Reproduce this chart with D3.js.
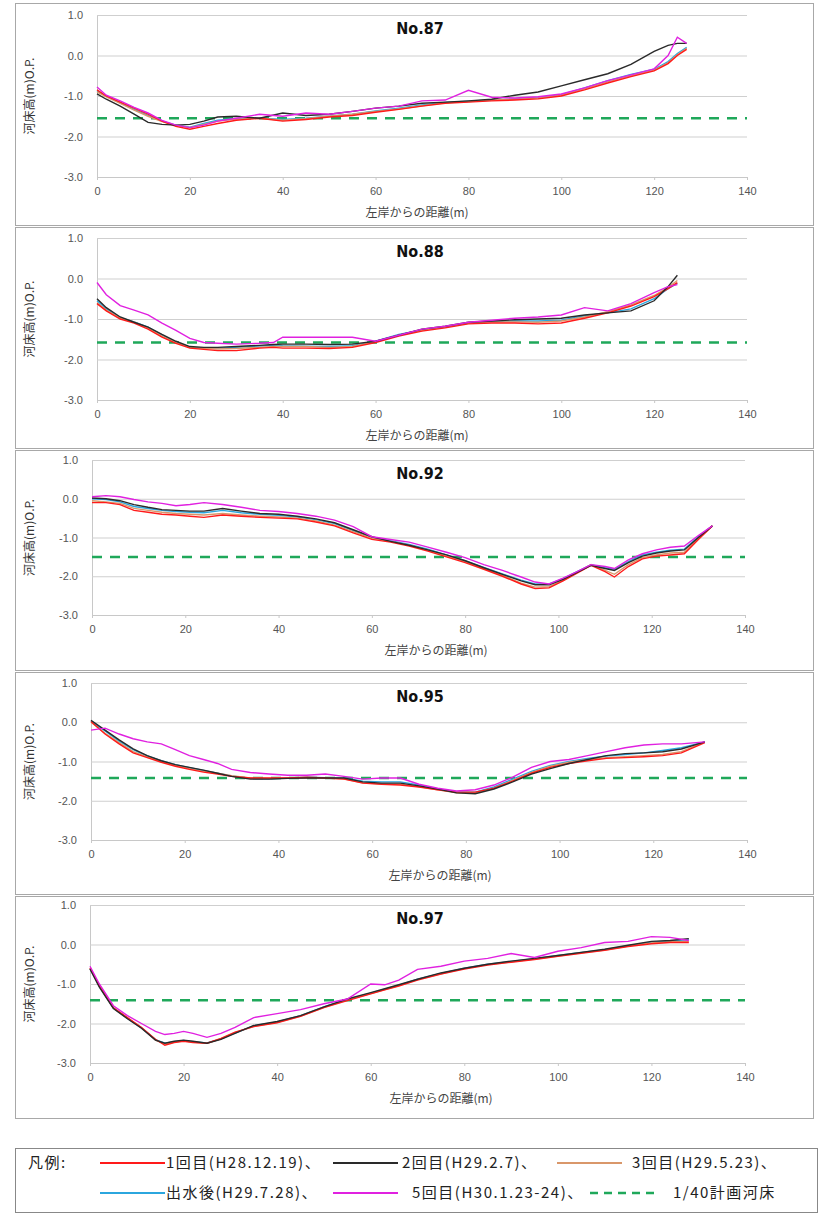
<!DOCTYPE html>
<html>
<head>
<meta charset="utf-8">
<script src="https://cdn.jsdelivr.net/npm/d3@7"></script>
<style>
  body { margin: 0; background: #fff; }
  svg { display: block; }
  .tick text { font-family: "Liberation Sans", Arial, sans-serif; font-size: 11px; fill: #555; }
  .jp { font-family: "Noto Sans CJK JP", sans-serif; }
</style>
</head>
<body>
<div id="chart"></div>
<script>
var chart_width = 823,
    chart_height = 1214;

// series names / colours (legend order)
var seriesNames = ['1回目(H28.12.19)、', '2回目(H29.2.7)、', '3回目(H29.5.23)、',
                   '出水後(H29.7.28)、', '5回目(H30.1.23-24)、'];
var seriesColors = ['#ff1a1a', '#2a2a2a', '#d9976a', '#2ba6de', '#e021e0'];
var planName = '1/40計画河床';
var planColor = '#1fa85a';

var xTicks = [0, 20, 40, 60, 80, 100, 120, 140];
var yTicks = [1, 0, -1, -2, -3];
var titles = ['No.87', 'No.88', 'No.92', 'No.95', 'No.97'];
var planLevels = [-1.55, -1.58, -1.5, -1.42, -1.41];

// No.87
var x87 = [0, 2, 5, 8, 11, 14, 17, 20, 23, 26, 30, 35, 40, 45, 50, 55, 60, 65, 70, 75, 80, 85, 90, 95, 100, 105, 110, 115, 120, 123, 125, 127];
var red87 = [-0.85, -1.0, -1.15, -1.3, -1.45, -1.62, -1.75, -1.82, -1.75, -1.68, -1.6, -1.55, -1.62, -1.58, -1.52, -1.48, -1.4, -1.33, -1.25, -1.18, -1.15, -1.12, -1.1, -1.07, -1.0, -0.85, -0.68, -0.52, -0.38, -0.2, 0.0, 0.15];
var black87 = [-0.95, -1.08, -1.25, -1.45, -1.65, -1.7, -1.72, -1.7, -1.62, -1.52, -1.5, -1.55, -1.42, -1.48, -1.45, -1.38, -1.3, -1.25, -1.18, -1.15, -1.12, -1.08, -0.98, -0.9, -0.75, -0.6, -0.45, -0.22, 0.1, 0.25, 0.3, 0.3];
var brown87 = [-0.9, -1.02, -1.18, -1.35, -1.5, -1.63, -1.73, -1.78, -1.7, -1.62, -1.57, -1.55, -1.6, -1.56, -1.5, -1.45, -1.38, -1.32, -1.24, -1.17, -1.14, -1.1, -1.08, -1.05, -0.98, -0.82, -0.65, -0.5, -0.36, -0.18, 0.02, 0.18];
var blue87 = [-0.88, -1.0, -1.17, -1.33, -1.48, -1.62, -1.72, -1.77, -1.68, -1.6, -1.56, -1.54, -1.58, -1.55, -1.5, -1.45, -1.37, -1.3, -1.22, -1.16, -1.13, -1.1, -1.07, -1.04, -0.97, -0.8, -0.62, -0.47, -0.34, -0.15, 0.05, 0.2];
var pink87 = [-0.78, -0.98, -1.12, -1.28, -1.42, -1.6, -1.72, -1.78, -1.72, -1.62, -1.55, -1.45, -1.5, -1.42, -1.45, -1.38, -1.3, -1.25, -1.12, -1.1, -0.86, -1.03, -1.05, -1.02, -0.95, -0.8, -0.62, -0.48, -0.33, 0.0, 0.45, 0.3];

// No.88
var x88 = [0, 2, 5, 8, 11, 14, 17, 20, 23, 26, 30, 35, 38, 40, 45, 50, 55, 60, 65, 70, 75, 80, 85, 90, 95, 100, 105, 110, 115, 120, 123, 125];
var red88 = [-0.62, -0.8, -1.0, -1.1, -1.25, -1.45, -1.6, -1.72, -1.75, -1.78, -1.78, -1.72, -1.7, -1.72, -1.72, -1.73, -1.7, -1.58, -1.42, -1.3, -1.22, -1.12, -1.1, -1.1, -1.12, -1.1, -0.98, -0.85, -0.68, -0.45, -0.25, -0.1];
var black88 = [-0.5, -0.72, -0.95, -1.08, -1.2, -1.38, -1.55, -1.68, -1.7, -1.7, -1.68, -1.65, -1.63, -1.62, -1.62, -1.63, -1.62, -1.55, -1.4, -1.25, -1.18, -1.08, -1.05, -1.02, -1.0, -0.98, -0.9, -0.85, -0.8, -0.55, -0.2, 0.08];
var brown88 = [-0.6, -0.78, -0.98, -1.08, -1.22, -1.42, -1.58, -1.7, -1.73, -1.74, -1.73, -1.7, -1.68, -1.68, -1.68, -1.7, -1.68, -1.56, -1.4, -1.28, -1.2, -1.1, -1.07, -1.07, -1.08, -1.05, -0.95, -0.82, -0.65, -0.42, -0.22, -0.05];
var blue88 = [-0.55, -0.75, -0.97, -1.07, -1.2, -1.4, -1.57, -1.7, -1.72, -1.72, -1.7, -1.67, -1.65, -1.66, -1.67, -1.68, -1.66, -1.55, -1.38, -1.27, -1.2, -1.1, -1.06, -1.05, -1.05, -1.03, -0.92, -0.85, -0.75, -0.5, -0.25, -0.12];
var pink88 = [-0.1, -0.4, -0.67, -0.78, -0.9, -1.1, -1.28, -1.48, -1.58, -1.6, -1.62, -1.6, -1.58, -1.45, -1.45, -1.45, -1.45, -1.55, -1.4, -1.25, -1.18, -1.08, -1.03, -0.98, -0.95, -0.9, -0.72, -0.8, -0.62, -0.35, -0.2, -0.15];

// No.92
var x92 = [0, 3, 6, 9, 12, 15, 18, 21, 24, 28, 32, 36, 40, 44, 48, 52, 56, 60, 64, 68, 72, 76, 80, 84, 88, 92, 95, 98, 101, 104, 107, 110, 112, 115, 118, 121, 124, 127, 130, 133];
var red92 = [-0.1, -0.1, -0.15, -0.3, -0.35, -0.4, -0.42, -0.45, -0.48, -0.42, -0.45, -0.48, -0.5, -0.52, -0.6, -0.7, -0.88, -1.05, -1.12, -1.22, -1.35, -1.5, -1.65, -1.82, -2.0, -2.2, -2.32, -2.3, -2.12, -1.92, -1.72, -1.88, -2.02, -1.75, -1.55, -1.48, -1.45, -1.42, -1.05, -0.7];
var black92 = [0.02, 0.0, -0.05, -0.15, -0.22, -0.28, -0.3, -0.32, -0.32, -0.25, -0.32, -0.38, -0.4, -0.45, -0.52, -0.62, -0.8, -0.98, -1.1, -1.2, -1.32, -1.45, -1.6, -1.78, -1.95, -2.12, -2.22, -2.22, -2.08, -1.9, -1.72, -1.8, -1.85, -1.65, -1.48, -1.4, -1.35, -1.32, -1.0, -0.7];
var brown92 = [-0.05, -0.08, -0.12, -0.25, -0.3, -0.35, -0.38, -0.4, -0.42, -0.38, -0.42, -0.45, -0.47, -0.5, -0.57, -0.68, -0.85, -1.02, -1.1, -1.2, -1.33, -1.48, -1.62, -1.8, -1.98, -2.18, -2.28, -2.27, -2.1, -1.9, -1.7, -1.85, -1.95, -1.7, -1.52, -1.45, -1.4, -1.38, -1.02, -0.7];
var blue92 = [0.0, -0.02, -0.08, -0.2, -0.25, -0.3, -0.33, -0.35, -0.36, -0.3, -0.36, -0.4, -0.43, -0.47, -0.54, -0.64, -0.82, -1.0, -1.08, -1.18, -1.3, -1.45, -1.6, -1.77, -1.94, -2.1, -2.2, -2.2, -2.06, -1.88, -1.7, -1.78, -1.82, -1.62, -1.45, -1.38, -1.33, -1.3, -0.98, -0.7];
var pink92 = [0.05, 0.08, 0.05, -0.02, -0.08, -0.12, -0.18, -0.15, -0.1, -0.15, -0.22, -0.3, -0.33, -0.38, -0.45, -0.55, -0.72, -0.98, -1.05, -1.12, -1.25, -1.38, -1.52, -1.7, -1.85, -2.02, -2.15, -2.2, -2.05, -1.88, -1.7, -1.75, -1.8, -1.58, -1.42, -1.32, -1.25, -1.22, -0.95, -0.7];

// No.95
var x95 = [0, 3, 6, 9, 12, 15, 18, 21, 24, 27, 30, 34, 38, 42, 46, 50, 54, 58, 62, 66, 70, 74, 78, 82, 86, 90, 94, 98, 102, 106, 110, 114, 118, 122, 126, 131];
var red95 = [0.02, -0.3, -0.55, -0.78, -0.9, -1.02, -1.12, -1.2, -1.27, -1.32, -1.38, -1.42, -1.42, -1.42, -1.4, -1.42, -1.45, -1.55, -1.58, -1.6, -1.65, -1.72, -1.78, -1.78, -1.68, -1.5, -1.3, -1.15, -1.05, -0.98, -0.92, -0.9, -0.88, -0.85, -0.78, -0.52];
var black95 = [0.05, -0.2, -0.45, -0.68, -0.85, -0.98, -1.08, -1.15, -1.22, -1.3, -1.38, -1.45, -1.45, -1.43, -1.42, -1.42, -1.42, -1.52, -1.55, -1.55, -1.62, -1.7, -1.8, -1.82, -1.7, -1.52, -1.32, -1.18, -1.05, -0.95, -0.85, -0.8, -0.78, -0.75, -0.68, -0.5];
var brown95 = [0.0, -0.28, -0.52, -0.75, -0.88, -1.0, -1.1, -1.18, -1.25, -1.3, -1.36, -1.42, -1.43, -1.42, -1.41, -1.42, -1.44, -1.54, -1.57, -1.58, -1.64, -1.72, -1.8, -1.8, -1.68, -1.48, -1.28, -1.12, -1.02, -0.95, -0.9, -0.88, -0.85, -0.82, -0.75, -0.5];
var blue95 = [0.03, -0.22, -0.48, -0.7, -0.86, -0.98, -1.08, -1.16, -1.23, -1.3, -1.37, -1.43, -1.44, -1.42, -1.4, -1.41, -1.42, -1.5, -1.52, -1.52, -1.6, -1.7, -1.78, -1.78, -1.65, -1.45, -1.25, -1.1, -1.0, -0.92, -0.86, -0.82, -0.78, -0.72, -0.65, -0.5];
var pink95 = [-0.2, -0.15, -0.3, -0.42, -0.5, -0.55, -0.7, -0.85, -0.95, -1.05, -1.2, -1.28, -1.32, -1.35, -1.35, -1.32, -1.38, -1.45, -1.42, -1.42, -1.58, -1.68, -1.75, -1.72, -1.6, -1.4, -1.15, -1.0, -0.95, -0.85, -0.75, -0.65, -0.58, -0.55, -0.55, -0.5];

// No.97
var x97 = [0, 2, 5, 8, 11, 14, 16, 18, 20, 22, 25, 28, 31, 35, 40, 45, 50, 55, 60, 63, 66, 70, 75, 80, 85, 90, 95, 100, 105, 110, 115, 120, 124, 128];
var red97 = [-0.6, -1.05, -1.6, -1.85, -2.1, -2.4, -2.55, -2.48, -2.45, -2.48, -2.5, -2.38, -2.22, -2.08, -1.98, -1.82, -1.6, -1.42, -1.25, -1.15, -1.05, -0.9, -0.75, -0.62, -0.52, -0.45, -0.38, -0.3, -0.22, -0.15, -0.05, 0.02, 0.05, 0.05];
var black97 = [-0.62, -1.08, -1.62, -1.88, -2.12, -2.42, -2.5, -2.45, -2.42, -2.45, -2.5, -2.4, -2.25, -2.05, -1.95, -1.8, -1.58, -1.38, -1.22, -1.12, -1.02, -0.88, -0.72, -0.6, -0.5, -0.42, -0.35, -0.28, -0.2, -0.12, -0.02, 0.08, 0.1, 0.15];
var brown97 = [-0.6, -1.05, -1.6, -1.86, -2.1, -2.42, -2.52, -2.47, -2.44, -2.47, -2.5, -2.39, -2.23, -2.07, -1.97, -1.81, -1.59, -1.4, -1.24, -1.14, -1.04, -0.89, -0.74, -0.61, -0.51, -0.44, -0.37, -0.29, -0.21, -0.14, -0.04, 0.04, 0.07, 0.08];
var blue97 = [-0.61, -1.06, -1.61, -1.87, -2.11, -2.41, -2.5, -2.46, -2.43, -2.46, -2.49, -2.39, -2.24, -2.06, -1.96, -1.8, -1.58, -1.39, -1.23, -1.13, -1.03, -0.88, -0.73, -0.6, -0.5, -0.43, -0.36, -0.28, -0.2, -0.13, -0.03, 0.06, 0.09, 0.12];
var pink97 = [-0.55, -1.0, -1.55, -1.8, -2.0, -2.2, -2.28, -2.25, -2.2, -2.25, -2.35, -2.25, -2.1, -1.85, -1.75, -1.65, -1.5, -1.38, -1.0, -1.02, -0.9, -0.63, -0.55, -0.42, -0.35, -0.23, -0.33, -0.17, -0.08, 0.05, 0.08, 0.2, 0.18, 0.1];

var sections = [
    { x: x87, ys: [red87, black87, brown87, blue87, pink87] },
    { x: x88, ys: [red88, black88, brown88, blue88, pink88] },
    { x: x92, ys: [red92, black92, brown92, blue92, pink92] },
    { x: x95, ys: [red95, black95, brown95, blue95, pink95] },
    { x: x97, ys: [red97, black97, brown97, blue97, pink97] }
];

// frame and plot area positions of each panel (pixels)
var frames = [
    { top: 3, bottom: 225, yTop: 15, yBot: 177, x0: 97, x1: 747, xLab: 417 },
    { top: 227, bottom: 448, yTop: 238, yBot: 400, x0: 97, x1: 747, xLab: 417 },
    { top: 450, bottom: 670, yTop: 460, yBot: 615, x0: 92, x1: 745, xLab: 436 },
    { top: 672, bottom: 894, yTop: 683, yBot: 840, x0: 91, x1: 747, xLab: 440 },
    { top: 896, bottom: 1118, yTop: 905, yBot: 1063, x0: 90, x1: 745, xLab: 441 }
];

// draw order: blue, brown, red, black, magenta
var drawOrder = [3, 2, 0, 1, 4];

var svg = d3.select("#chart")
    .append("svg")
    .attr("width", chart_width)
    .attr("height", chart_height);

frames.forEach(function (f, i) {
    var g = svg.append('g');

    g.append('rect')
        .attr('x', 15.5).attr('y', f.top + 0.5)
        .attr('width', 798).attr('height', f.bottom - f.top)
        .attr('fill', '#fff')
        .attr('stroke', '#a8a8a8');

    var x = d3.scaleLinear().domain([0, 140]).range([f.x0, f.x1]);
    var y = d3.scaleLinear().domain([-3, 1]).range([f.yBot, f.yTop]);

    // y grid + labels
    var yAxis = g.append('g')
        .attr('transform', 'translate(' + f.x0 + ',0)')
        .call(d3.axisLeft(y).tickValues(yTicks)
            .tickSize(-(f.x1 - f.x0)).tickPadding(14)
            .tickFormat(function (d) { return d.toFixed(1); }));
    yAxis.select('.domain').attr('stroke', '#c8c8c8');
    yAxis.selectAll('.tick line').attr('stroke', '#cfcfcf');

    // x axis
    var xAxis = g.append('g')
        .attr('transform', 'translate(0,' + f.yBot + ')')
        .call(d3.axisBottom(x).tickValues(xTicks).tickSize(3).tickPadding(7)
            .tickFormat(d3.format('d')));
    xAxis.select('.domain').attr('stroke', '#c8c8c8');
    xAxis.selectAll('.tick line').attr('stroke', '#c8c8c8');

    // plan bed line
    g.append('line')
        .attr('x1', x(0)).attr('x2', x(140))
        .attr('y1', y(planLevels[i])).attr('y2', y(planLevels[i]))
        .attr('stroke', planColor)
        .attr('stroke-width', 2.5)
        .attr('stroke-dasharray', '10,8');

    var sec = sections[i];
    var line = d3.line()
        .x(function (d, k) { return x(sec.x[k]); })
        .y(function (d) { return y(d); });

    drawOrder.forEach(function (s) {
        g.append('path')
            .datum(sec.ys[s])
            .attr('d', line)
            .attr('fill', 'none')
            .attr('stroke', seriesColors[s])
            .attr('stroke-width', 1.4);
    });

    // title
    g.append('text')
        .attr('x', 420).attr('y', f.yTop + 19)
        .attr('text-anchor', 'middle')
        .style('font-family', '"DejaVu Sans Condensed", "Liberation Sans", sans-serif')
        .style('font-weight', 'bold')
        .style('font-size', '16px')
        .attr('fill', '#111')
        .text(titles[i]);

    // y label
    var cy = (f.yTop + f.yBot) / 2;
    g.append('text')
        .attr('class', 'jp')
        .attr('transform', 'translate(34,' + cy + ') rotate(-90)')
        .attr('text-anchor', 'middle')
        .style('font-size', '12px')
        .attr('fill', '#333')
        .text('河床高(m)O.P.');

    // x label
    g.append('text')
        .attr('class', 'jp')
        .attr('x', f.xLab).attr('y', f.yBot + 40)
        .attr('text-anchor', 'middle')
        .style('font-size', '12px')
        .attr('fill', '#444')
        .text('左岸からの距離(m)');
});

// legend
var legend = svg.append('g');
legend.append('rect')
    .attr('x', 15.5).attr('y', 1148.5)
    .attr('width', 802).attr('height', 64)
    .attr('fill', '#fff')
    .attr('stroke', '#888');

legend.append('text')
    .attr('class', 'jp')
    .attr('x', 28).attr('y', 1168)
    .style('font-size', '15px')
    .style('letter-spacing', '1.5px')
    .attr('fill', '#222')
    .text('凡例:');

var legendPos = [
    { x: 100, y: 1163, tx: 166 },
    { x: 333, y: 1163, tx: 402 },
    { x: 557, y: 1163, tx: 632 },
    { x: 100, y: 1193, tx: 166 },
    { x: 333, y: 1193, tx: 412 }
];
legendPos.forEach(function (p, s) {
    legend.append('line')
        .attr('x1', p.x).attr('x2', p.x + 65)
        .attr('y1', p.y).attr('y2', p.y)
        .attr('stroke', seriesColors[s])
        .attr('stroke-width', 2);
    legend.append('text')
        .attr('class', 'jp')
        .attr('x', p.tx).attr('y', p.y + 5)
        .style('font-size', '15px')
        .style('letter-spacing', '1.5px')
        .attr('fill', '#222')
        .text(seriesNames[s]);
});
legend.append('line')
    .attr('x1', 590).attr('x2', 655)
    .attr('y1', 1193).attr('y2', 1193)
    .attr('stroke', planColor)
    .attr('stroke-width', 2.5)
    .attr('stroke-dasharray', '8,6');
legend.append('text')
    .attr('class', 'jp')
    .attr('x', 673).attr('y', 1198)
    .style('font-size', '15px')
    .style('letter-spacing', '1.5px')
    .attr('fill', '#222')
    .text(planName);
</script>
</body>
</html>
